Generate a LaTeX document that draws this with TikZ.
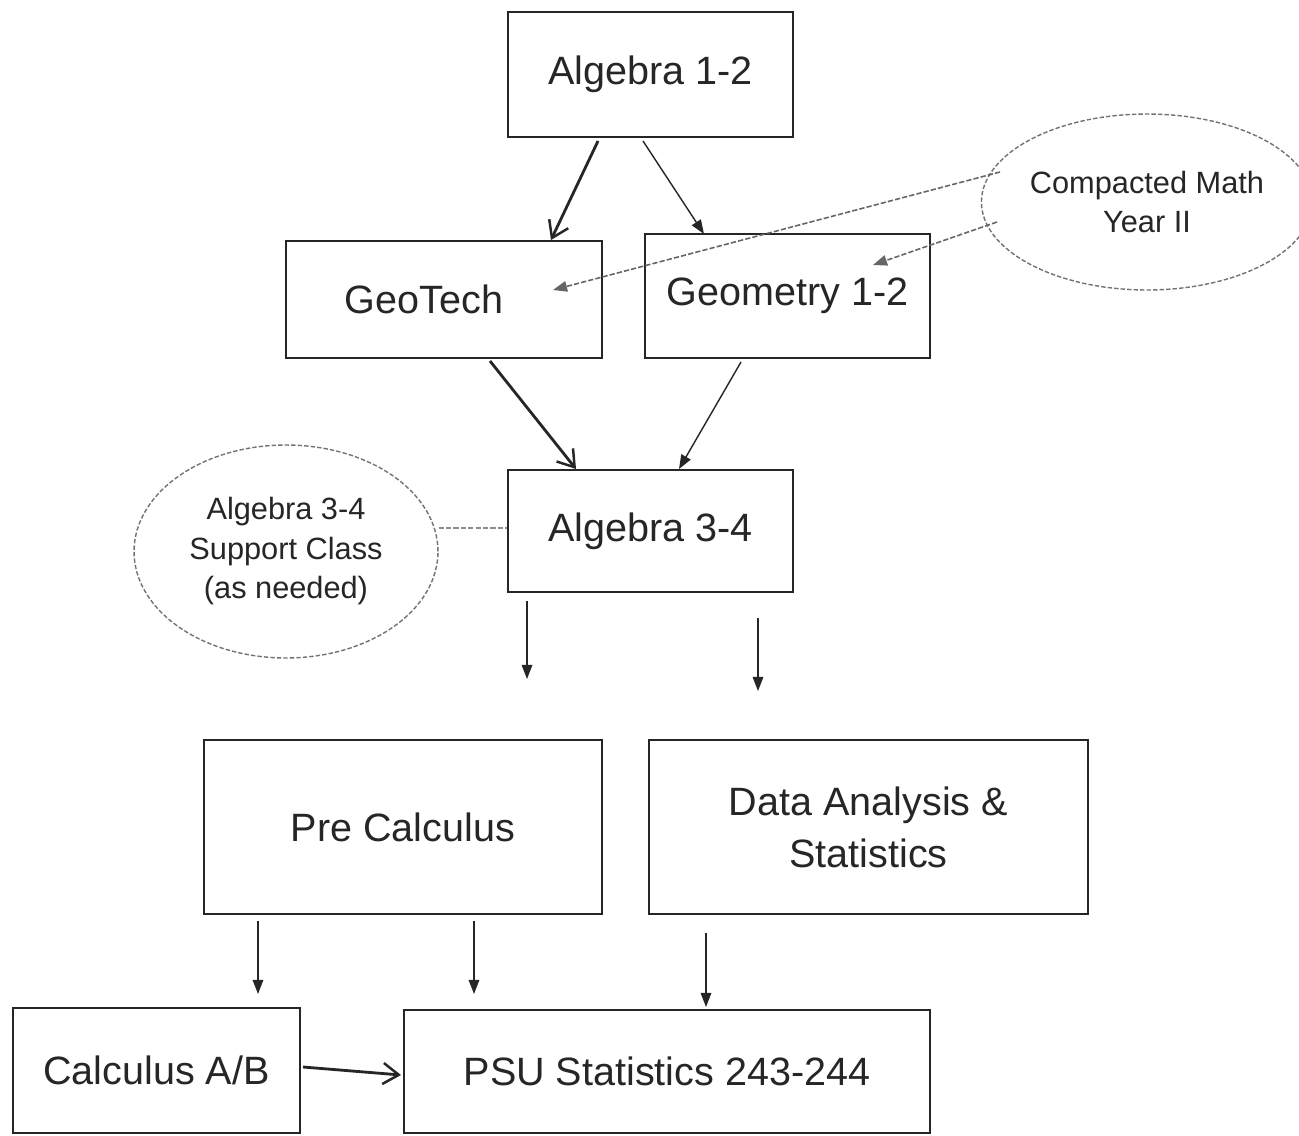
\documentclass[tikz,border=0pt]{standalone}
\usepackage{fontspec}
\setmainfont{Liberation Sans}
\usetikzlibrary{arrows.meta,shapes.geometric}
\definecolor{ink}{gray}{0.15}
\begin{document}
\begin{tikzpicture}[x=0.02cm,y=-0.02cm,
  box/.style={draw=ink,line width=1.6pt,rectangle,inner sep=0pt,align=center,text=ink,
    font=\fontsize{22.5}{29.5}\selectfont},
  oval/.style={draw=black!55,line width=0.8pt,dash pattern=on 2.5pt off 1.2pt,ellipse,
    inner sep=0pt,align=center,text=ink,font=\fontsize{17.5}{22.5}\selectfont},
  thickarr/.style={draw=ink,line width=1.6pt,-{Straight Barb[length=9pt,width=12pt,line width=1.4pt]}},
  thinarr/.style={draw=ink,line width=0.8pt,-{Triangle[length=8pt,width=6pt]}},
  dasharr/.style={draw=black!60,line width=0.9pt,dash pattern=on 3pt off 1.2pt,-{Triangle[length=8pt,width=6pt]}},
  dashline/.style={draw=black!45,line width=1pt,dash pattern=on 3pt off 1.2pt}]
\useasboundingbox[fill=white] (0,0) rectangle (1299,1136);

\node[box,minimum width=5.7cm,minimum height=2.5cm] (alg12) at (650.5,74.5) {Algebra 1-2};
\node[box,minimum width=6.32cm,minimum height=2.34cm] (geotech) at (444,299.5) {GeoTech\hspace{0.8cm}};
\node[box,minimum width=5.7cm,minimum height=2.48cm] (geom) at (787.5,296) {Geometry 1-2};
\node[oval,minimum width=6.08cm,minimum height=3.52cm] (compact) at (1147,202) {Compacted Math\\Year II};
\node[box,minimum width=5.7cm,minimum height=2.44cm] (alg34) at (650.5,531) {Algebra 3-4};
\node[oval,minimum width=6.08cm,minimum height=4.26cm] (support) at (286,551.5) {Algebra 3-4\\Support Class\\(as needed)};
\node[box,minimum width=7.96cm,minimum height=3.48cm] (precalc) at (403,827) {Pre Calculus};
\node[box,minimum width=8.78cm,minimum height=3.48cm] (data) at (868.5,827) {Data Analysis \&\\Statistics};
\node[box,minimum width=5.74cm,minimum height=2.5cm] (calc) at (156.5,1070.5) {Calculus A/B};
\node[box,minimum width=10.52cm,minimum height=2.46cm] (psu) at (667,1071.5) {PSU Statistics 243-244};

% named end points
\coordinate (a1s) at (598,141);
\coordinate (a1e) at (551,240);
\coordinate (a2s) at (643,141);
\coordinate (a2e) at (704,234);
\coordinate (c1s) at (1000,172);
\coordinate (c1e) at (553,290);
\coordinate (c2s) at (997,222);
\coordinate (c2e) at (873,265);
\coordinate (g1s) at (490,361);
\coordinate (g1e) at (576,469);
\coordinate (g2s) at (741,362);
\coordinate (g2e) at (679,469);
\coordinate (f1s) at (527,601);
\coordinate (f1e) at (527,679);
\coordinate (f2s) at (758,618);
\coordinate (f2e) at (758,691);
\coordinate (p1s) at (258,921);
\coordinate (p1e) at (258,994);
\coordinate (p2s) at (474,921);
\coordinate (p2e) at (474,994);
\coordinate (d1s) at (706,933);
\coordinate (d1e) at (706,1007);
\coordinate (k1s) at (303,1067);
\coordinate (k1e) at (401,1075);

\draw[thickarr] (a1s) -- (a1e);
\draw[thinarr] (a2s) -- (a2e);
\draw[dasharr] (c1s) -- (c1e);
\draw[dasharr] (c2s) -- (c2e);
\draw[thickarr] (g1s) -- (g1e);
\draw[thinarr] (g2s) -- (g2e);
\draw[dashline] (support.east |- 0,528) -- (alg34.west |- 0,528);
\draw[thinarr] (f1s) -- (f1e);
\draw[thinarr] (f2s) -- (f2e);
\draw[thinarr] (p1s) -- (p1e);
\draw[thinarr] (p2s) -- (p2e);
\draw[thinarr] (d1s) -- (d1e);
\draw[thickarr] (k1s) -- (k1e);
\end{tikzpicture}
\end{document}
